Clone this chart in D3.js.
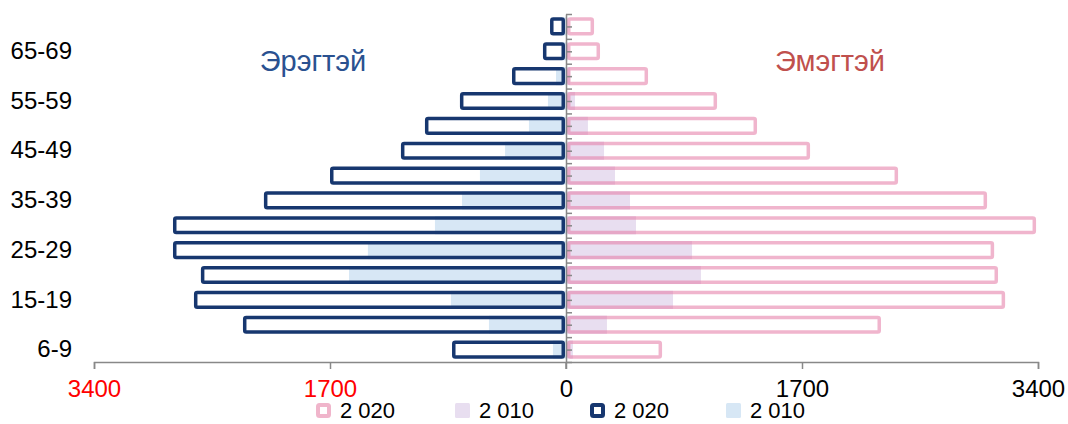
<!DOCTYPE html>
<html><head><meta charset="utf-8">
<script src="https://cdn.jsdelivr.net/npm/d3@7/dist/d3.min.js"></script>
<style>
body{margin:0;background:#fff;}
svg{display:block;font-family:"Liberation Sans",Arial,sans-serif;}
</style></head>
<body><svg id="c" width="1068" height="424"></svg>
<script>
// bottom-up age groups
const categories = ["6-9","10-14","15-19","20-24","25-29","30-34","35-39","40-44","45-49","50-54","55-59","60-64","65-69","70+"];
const female2020 = [692,2269,3163,3112,3084,3386,3033,2392,1758,1376,1088,591,245,202];
const female2010 = [50,295,771,972,908,504,461,353,274,158,65,30,15,10];
const male2020   = [821,2327,2680,2630,2831,2831,2176,1700,1189,1016,764,389,166,115];
const male2010   = [94,555,829,1563,1427,944,749,620,439,267,130,72,29,22];
const xTicks = [-3400,-1700,0,1700,3400];
const labelTicks = ["6-9","15-19","25-29","35-39","45-49","55-59","65-69"];
const legendLabels = ["2 020","2 010","2 020","2 010"];

const svg = d3.select("#c");
const x = d3.scaleLinear().domain([-3400,3400]).range([94,1038]);
const y = d3.scaleBand().domain(categories.slice().reverse()).range([14,362]).paddingInner(0.27).paddingOuter(0.135);
const x0 = x(0);
const sw = 3.5;

const NAVY="#17376F", PINK="rgba(230,128,168,0.58)", PURPLE="#E8DEF0", BLUE="#D7E7F5";

// female 2010 (filled)
svg.append("g").selectAll("rect").data(categories).join("rect")
  .attr("x", x0)
  .attr("y", d => y(d))
  .attr("width", (d,i) => x(female2010[i]) - x0)
  .attr("height", y.bandwidth())
  .attr("fill", PURPLE);
// male 2010 (filled)
svg.append("g").selectAll("rect").data(categories).join("rect")
  .attr("x", (d,i) => x(-male2010[i]))
  .attr("y", d => y(d))
  .attr("width", (d,i) => x0 - x(-male2010[i]))
  .attr("height", y.bandwidth())
  .attr("fill", BLUE);
// female 2020 outlined
svg.append("g").selectAll("rect").data(categories).join("rect")
  .attr("x", x0 + 1 + sw/2)
  .attr("y", d => y(d) + sw/2)
  .attr("width", (d,i) => Math.max(0, x(female2020[i]) - x0 - 1 - sw))
  .attr("height", y.bandwidth() - sw)
  .attr("rx", 1.5)
  .attr("fill", "none").attr("stroke", PINK).attr("stroke-width", sw);
// male 2020 outlined
svg.append("g").selectAll("rect").data(categories).join("rect")
  .attr("x", (d,i) => x(-male2020[i]) + sw/2)
  .attr("y", d => y(d) + sw/2)
  .attr("width", (d,i) => Math.max(0, x0 - 1 - x(-male2020[i]) - sw))
  .attr("height", y.bandwidth() - sw)
  .attr("rx", 1.5)
  .attr("fill", "none").attr("stroke", NAVY).attr("stroke-width", sw);

// x axis
const xa = svg.append("g").attr("transform","translate(0,362)")
  .call(d3.axisBottom(x).tickValues(xTicks).tickSize(7).tickPadding(11).tickFormat(d => Math.abs(d)));
xa.select(".domain").attr("stroke","#888").attr("stroke-width",1.5);
xa.selectAll(".tick line").attr("stroke","#888").attr("stroke-width",1.5);
xa.selectAll(".tick text").attr("font-size",24).attr("font-family","Liberation Sans, Arial")
  .attr("fill", d => d < 0 ? "#FF0000" : "#000");

// vertical axis at zero with ticks at boundaries and centres
const yLin = d3.scaleLinear().domain([0,categories.length]).range([362,14]);
const va = svg.append("g").attr("transform",`translate(${x0},0)`)
  .call(d3.axisRight(yLin).tickValues(d3.range(0, categories.length + 0.01, 0.5)).tickSize(6).tickSizeOuter(0).tickFormat(""));
va.select(".domain").attr("stroke","#888").attr("stroke-width",1.5);
va.selectAll(".tick line").attr("stroke","#888").attr("stroke-width",1.5);
svg.append("line").attr("x1",x0).attr("x2",x0).attr("y1",362).attr("y2",369).attr("stroke","#888").attr("stroke-width",1.5);

// category labels
const la = svg.append("g").attr("transform","translate(72,0)")
  .call(d3.axisLeft(y).tickValues(labelTicks).tickSize(0).tickPadding(0));
la.select(".domain").remove();
la.selectAll(".tick text").attr("font-size",24).attr("font-family","Liberation Sans, Arial").attr("fill","#000");

// titles
svg.append("text").attr("x",313).attr("y",71).attr("text-anchor","middle")
  .attr("font-size",29).attr("fill","#2A5190").text("Эрэгтэй");
svg.append("text").attr("x",830).attr("y",71).attr("text-anchor","middle")
  .attr("font-size",29).attr("fill","#C0504D").text("Эмэгтэй");

// legend
const legX = [316,455,590,726];
const leg = svg.append("g");
legendLabels.forEach((t,i) => {
  const g = leg.append("g").attr("transform",`translate(${legX[i]},403)`);
  if (i === 0 || i === 2) {
    g.append("rect").attr("x",2).attr("y",2).attr("width",11).attr("height",11).attr("rx",1.5)
      .attr("fill","#fff").attr("stroke", i===0?"#F0B5CB":NAVY).attr("stroke-width",4);
  } else {
    g.append("rect").attr("x",0).attr("y",0).attr("width",15).attr("height",15).attr("rx",1.5)
      .attr("fill", i===1?PURPLE:BLUE);
  }
  g.append("text").attr("x",24).attr("y",15).attr("font-size",22).attr("fill","#000").text(t);
});
</script></body></html>
